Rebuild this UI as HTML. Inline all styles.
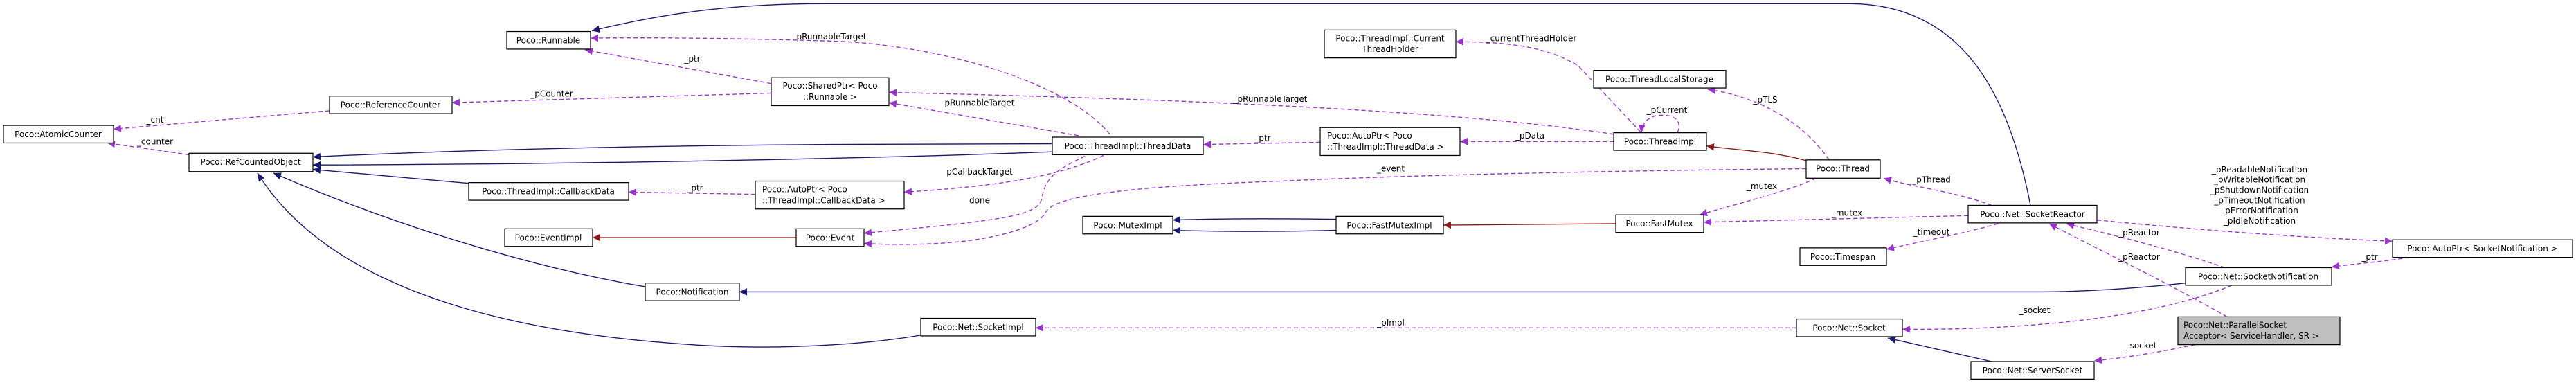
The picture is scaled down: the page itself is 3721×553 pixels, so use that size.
<!DOCTYPE html>
<html><head><meta charset="utf-8"><style>
html,body{margin:0;padding:0;background:#fff;}
svg{display:block;font-family:"DejaVu Sans",sans-serif;font-size:12px;}
.n{fill:#fff;stroke:#000;stroke-width:1.2;}
.b{fill:none;stroke:#191970;stroke-width:1.3;}
.r{fill:none;stroke:#8b1a1a;stroke-width:1.3;}
.p{fill:none;stroke:#9a32cd;stroke-width:1.3;stroke-dasharray:6,4;}
text{fill:#000;}
.c{text-anchor:middle;}
</style></head><body>
<svg width="3721" height="553" viewBox="0 0 3721 553" xmlns="http://www.w3.org/2000/svg">
<defs>
<marker id="ab" markerUnits="userSpaceOnUse" markerWidth="12" markerHeight="10" refX="11" refY="5" orient="auto"><path d="M0,0 L11,5 L0,10 z" fill="#191970"/></marker>
<marker id="ar" markerUnits="userSpaceOnUse" markerWidth="12" markerHeight="10" refX="11" refY="5" orient="auto"><path d="M0,0 L11,5 L0,10 z" fill="#8b1a1a"/></marker>
<marker id="ap" markerUnits="userSpaceOnUse" markerWidth="12" markerHeight="10" refX="11" refY="5" orient="auto"><path d="M0,0 L11,5 L0,10 z" fill="#9a32cd"/></marker>
</defs>
<g transform="scale(1,1.0588)">
<!-- blue inheritance edges -->
<path class="b" marker-end="url(#ab)" d="M2933,280 C2900,120 2830,5 2670,5 L1190,5 C1050,5 950,20 855,42"/>
<path class="b" marker-end="url(#ab)" d="M1520,196 L1200,197 C900,199 650,205 452,214"/>
<path class="b" marker-end="url(#ab)" d="M1520,207 C1200,218 800,224 452,225"/>
<path class="b" marker-end="url(#ab)" d="M677,250 L452,231"/>
<path class="b" marker-end="url(#ab)" d="M932,391 C800,370 600,320 395,236"/>
<path class="b" marker-end="url(#ab)" d="M1330,457 C1250,470 1120,478 1000,470 C750,455 480,400 372,236"/>
<path class="b" marker-end="url(#ab)" d="M3157,386 C3080,394 3000,398 2950,398 L1068,398"/>
<path class="b" marker-end="url(#ab)" d="M1930,299 C1850,298 1760,298 1694,300"/>
<path class="b" marker-end="url(#ab)" d="M1930,314 C1850,316 1760,316 1694,314"/>
<path class="b" marker-end="url(#ab)" d="M2877,493 L2727,461"/>

<!-- red edges -->
<path class="r" marker-end="url(#ar)" d="M1150,324 L856,324"/>
<path class="r" marker-end="url(#ar)" d="M2609,219 C2560,206 2510,205 2465,199"/>
<path class="r" marker-end="url(#ar)" d="M2334,305 L2085,307"/>

<!-- purple edges -->
<path class="p" marker-end="url(#ap)" d="M476,151 L164,176"/>
<path class="p" marker-end="url(#ap)" d="M273,211 L155,195"/>
<path class="p" marker-end="url(#ap)" d="M1114,127 L653,140"/>
<path class="p" marker-end="url(#ap)" d="M1114,114 L845,68"/>
<path class="p" marker-end="url(#ap)" d="M1603,183 C1540,110 1350,60 1200,56 C1050,52 950,51 853,52"/>
<path class="p" marker-end="url(#ap)" d="M1558,185 L1284,140"/>
<path class="p" marker-end="url(#ap)" d="M2331,183 C2100,150 1700,135 1284,126"/>
<path class="p" marker-end="url(#ap)" d="M1907,194 L1738,197"/>
<path class="p" marker-end="url(#ap)" d="M2331,193 L2109,193"/>
<path class="p" marker-end="url(#ap)" d="M2370,180 C2330,140 2300,110 2280,90 C2230,60 2160,57 2103,57"/>
<path class="p" marker-end="url(#ap)" d="M2423,181 C2430,165 2420,157 2400,157 C2385,157 2372,165 2371,181"/>
<path class="p" marker-end="url(#ap)" d="M2642,218 C2600,160 2530,130 2467,122"/>
<path class="p" marker-end="url(#ap)" d="M2609,230 C2300,233 2000,240 1850,247 C1600,255 1520,270 1510,290 C1500,310 1420,340 1248,332"/>
<path class="p" marker-end="url(#ap)" d="M1567,213 C1530,230 1510,240 1505,270 C1500,295 1450,300 1248,318"/>
<path class="p" marker-end="url(#ap)" d="M1594,212 C1520,245 1420,255 1306,262"/>
<path class="p" marker-end="url(#ap)" d="M1091,265 L908,262"/>
<path class="p" marker-end="url(#ap)" d="M2624,243 C2580,262 2500,280 2455,293"/>
<path class="p" marker-end="url(#ap)" d="M2843,294 L2461,303"/>
<path class="p" marker-end="url(#ap)" d="M2877,280 C2820,260 2760,255 2721,243"/>
<path class="p" marker-end="url(#ap)" d="M2886,305 C2830,320 2770,330 2725,340"/>
<path class="p" marker-end="url(#ap)" d="M2595,447 L1496,447"/>
<path class="p" marker-end="url(#ap)" d="M3224,389 C3120,430 2950,450 2748,449"/>
<path class="p" marker-end="url(#ap)" d="M3214,365 C3120,335 3040,318 2985,305"/>
<path class="p" marker-end="url(#ap)" d="M3217,432 C3120,380 3030,340 2960,305"/>
<path class="p" marker-end="url(#ap)" d="M3029,300 C3200,316 3350,325 3456,329"/>
<path class="p" marker-end="url(#ap)" d="M3480,351 C3450,356 3400,360 3368,364"/>
<path class="p" marker-end="url(#ap)" d="M3171,470 C3120,480 3070,488 3025,492"/>

<!-- edge labels -->
<text x="224" y="167" class="c">_cnt</text>
<text x="224" y="197" class="c">_counter</text>
<text x="797" y="132" class="c">_pCounter</text>
<text x="1000" y="84" class="c">_ptr</text>
<text x="1201" y="54" class="c">pRunnableTarget</text>
<text x="1415" y="144" class="c">pRunnableTarget</text>
<text x="1835" y="139" class="c">_pRunnableTarget</text>
<text x="1824" y="192" class="c">_ptr</text>
<text x="2210" y="189" class="c">_pData</text>
<text x="2212" y="56" class="c">_currentThreadHolder</text>
<text x="2408" y="154" class="c">_pCurrent</text>
<text x="2550" y="140" class="c">_pTLS</text>
<text x="2009" y="234" class="c">_event</text>
<text x="1415" y="277" class="c">done</text>
<text x="1415" y="238" class="c">pCallbackTarget</text>
<text x="1004" y="260" class="c">_ptr</text>
<text x="2545" y="258" class="c">_mutex</text>
<text x="2668" y="294" class="c">_mutex</text>
<text x="2790" y="249" class="c">_pThread</text>
<text x="2790" y="320" class="c">_timeout</text>
<text x="2009" y="444" class="c">_pImpl</text>
<text x="2939" y="427" class="c">_socket</text>
<text x="3090" y="321" class="c">_pReactor</text>
<text x="3090" y="354" class="c">_pReactor</text>
<text x="3264" y="235" class="c">_pReadableNotification</text>
<text x="3264" y="249" class="c">_pWritableNotification</text>
<text x="3264" y="263" class="c">_pShutdownNotification</text>
<text x="3264" y="277" class="c">_pTimeoutNotification</text>
<text x="3264" y="291" class="c">_pErrorNotification</text>
<text x="3264" y="305" class="c">_pIdleNotification</text>
<text x="3423" y="354" class="c">_ptr</text>
<text x="3093" y="475" class="c">_socket</text>

<!-- nodes -->
<rect class="n" x="732" y="43" width="121" height="24"/><text x="792" y="59" class="c">Poco::Runnable</text>
<rect class="n" x="476" y="131" width="177" height="24"/><text x="564" y="147" class="c">Poco::ReferenceCounter</text>
<rect class="n" x="5" y="171" width="159" height="24"/><text x="84" y="187" class="c">Poco::AtomicCounter</text>
<rect class="n" x="273" y="209" width="179" height="25"/><text x="362" y="225" class="c">Poco::RefCountedObject</text>
<rect class="n" x="677" y="249" width="231" height="24"/><text x="792" y="265" class="c">Poco::ThreadImpl::CallbackData</text>
<rect class="n" x="729" y="312" width="127" height="24"/><text x="792" y="328" class="c">Poco::EventImpl</text>
<rect class="n" x="932" y="386" width="136" height="24"/><text x="1000" y="402" class="c">Poco::Notification</text>
<rect class="n" x="1114" y="106" width="170" height="38"/><text x="1199" y="121" class="c">Poco::SharedPtr&lt; Poco</text><text x="1199" y="136" class="c">::Runnable &gt;</text>
<rect class="n" x="1520" y="187" width="218" height="24"/><text x="1629" y="203" class="c">Poco::ThreadImpl::ThreadData</text>
<rect class="n" x="1091" y="247" width="215" height="38"/><text x="1101" y="262">Poco::AutoPtr&lt; Poco</text><text x="1101" y="277">::ThreadImpl::CallbackData &gt;</text>
<rect class="n" x="1150" y="312" width="98" height="24"/><text x="1199" y="328" class="c">Poco::Event</text>
<rect class="n" x="1564" y="295" width="130" height="24"/><text x="1629" y="311" class="c">Poco::MutexImpl</text>
<rect class="n" x="1330" y="434" width="166" height="24"/><text x="1413" y="450" class="c">Poco::Net::SocketImpl</text>
<rect class="n" x="1913" y="41" width="190" height="38"/><text x="2008" y="56" class="c">Poco::ThreadImpl::Current</text><text x="2008" y="71" class="c">ThreadHolder</text>
<rect class="n" x="2302" y="96" width="191" height="24"/><text x="2397" y="112" class="c">Poco::ThreadLocalStorage</text>
<rect class="n" x="1907" y="174" width="202" height="38"/><text x="1917" y="189">Poco::AutoPtr&lt; Poco</text><text x="1917" y="204">::ThreadImpl::ThreadData &gt;</text>
<rect class="n" x="2331" y="181" width="134" height="24"/><text x="2398" y="197" class="c">Poco::ThreadImpl</text>
<rect class="n" x="2609" y="218" width="107" height="25"/><text x="2662" y="234" class="c">Poco::Thread</text>
<rect class="n" x="1930" y="295" width="155" height="24"/><text x="2007" y="311" class="c">Poco::FastMutexImpl</text>
<rect class="n" x="2334" y="293" width="127" height="24"/><text x="2397" y="309" class="c">Poco::FastMutex</text>
<rect class="n" x="2600" y="338" width="125" height="24"/><text x="2662" y="354" class="c">Poco::Timespan</text>
<rect class="n" x="2595" y="435" width="153" height="24"/><text x="2671" y="451" class="c">Poco::Net::Socket</text>
<rect class="n" x="2843" y="280" width="186" height="24"/><text x="2936" y="296" class="c">Poco::Net::SocketReactor</text>
<rect class="n" x="3456" y="327" width="260" height="24"/><text x="3586" y="343" class="c">Poco::AutoPtr&lt; SocketNotification &gt;</text>
<rect class="n" x="3157" y="365" width="211" height="24"/><text x="3262" y="381" class="c">Poco::Net::SocketNotification</text>
<rect x="3146" y="432" width="234" height="38" fill="#bfbfbf" stroke="#000" stroke-width="1.2"/><text x="3154" y="447">Poco::Net::ParallelSocket</text><text x="3154" y="462">Acceptor&lt; ServiceHandler, SR &gt;</text>
<rect class="n" x="2847" y="493" width="178" height="24"/><text x="2936" y="509" class="c">Poco::Net::ServerSocket</text>
</g>
</svg>
</body></html>
